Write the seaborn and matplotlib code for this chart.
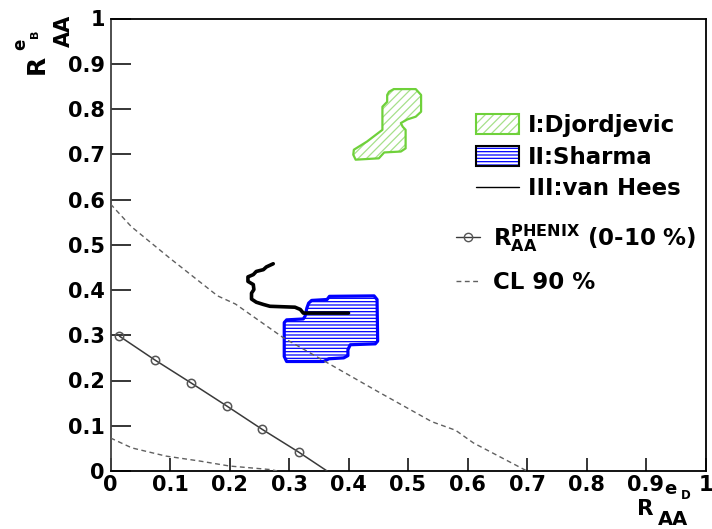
import numpy as np
import pandas as pd
import matplotlib
matplotlib.use("Agg")
import matplotlib.pyplot as plt
import seaborn as sns
from matplotlib.patches import Polygon, Patch
from matplotlib.lines import Line2D
from matplotlib.ticker import FixedLocator, FixedFormatter

# ---- data ----------------------------------------------------------------
tick_values = [0.0, 0.1, 0.2, 0.3, 0.4, 0.5, 0.6, 0.7, 0.8, 0.9, 1.0]
tick_labels = ["0", "0.1", "0.2", "0.3", "0.4", "0.5", "0.6", "0.7", "0.8", "0.9", "1"]

# I: Djordjevic band (outline of the allowed region)
djordjevic_x = [0.468, 0.476, 0.513, 0.522, 0.522, 0.513, 0.499, 0.488, 0.491, 0.496,
                0.496, 0.488, 0.460, 0.451, 0.412, 0.408, 0.409, 0.431, 0.457, 0.457,
                0.465, 0.465]
djordjevic_y = [0.838, 0.844, 0.844, 0.831, 0.794, 0.783, 0.777, 0.769, 0.761, 0.754,
                0.713, 0.706, 0.704, 0.691, 0.688, 0.699, 0.710, 0.728, 0.754, 0.805,
                0.816, 0.831]

# II: Sharma band
sharma_x = [0.333, 0.338, 0.364, 0.368, 0.443, 0.448, 0.449, 0.445, 0.403, 0.399,
            0.399, 0.392, 0.367, 0.358, 0.296, 0.292, 0.292, 0.296, 0.324, 0.327, 0.330]
sharma_y = [0.371, 0.377, 0.379, 0.386, 0.387, 0.379, 0.287, 0.281, 0.279, 0.268,
            0.255, 0.250, 0.248, 0.242, 0.242, 0.253, 0.328, 0.334, 0.336, 0.342, 0.360]

# III: van Hees curve
vanhees_x = [0.2735, 0.262, 0.257, 0.245, 0.240, 0.231, 0.231, 0.240, 0.241, 0.237,
             0.237, 0.245, 0.257, 0.268, 0.310, 0.319, 0.324, 0.400]
vanhees_y = [0.458, 0.451, 0.445, 0.441, 0.434, 0.429, 0.419, 0.412, 0.401, 0.393,
             0.380, 0.373, 0.368, 0.364, 0.362, 0.357, 0.349, 0.349]

# PHENIX R_AA (0-10 %) constraint
phenix_x = [0.015, 0.075, 0.135, 0.195, 0.255, 0.316]
phenix_y = [0.298, 0.245, 0.195, 0.144, 0.092, 0.042]
phenix_line_x = phenix_x + [0.364]
phenix_line_y = phenix_y + [0.0]

# 90 % confidence-level contours
cl_upper_x = [0.0, 0.035, 0.10, 0.18, 0.21, 0.29, 0.37, 0.45, 0.54, 0.58, 0.61, 0.70]
cl_upper_y = [0.59, 0.54, 0.47, 0.387, 0.369, 0.295, 0.235, 0.175, 0.109, 0.090, 0.062, 0.0]
cl_lower_x = [0.0, 0.036, 0.093, 0.15, 0.20, 0.27, 0.28]
cl_lower_y = [0.073, 0.051, 0.033, 0.022, 0.011, 0.003, 0.0]

legend_labels = ["I:Djordjevic", "II:Sharma", "III:van Hees"]
legend2_labels = [r"$\mathbf{R}_{\mathbf{AA}}^{\mathbf{PHENIX}}$ (0-10 %)", "CL 90 %"]

# ---- style ---------------------------------------------------------------
sns.set_theme(style="white")
plt.rcParams["font.family"] = ["DejaVu Sans"]
plt.rcParams["font.weight"] = "bold"
plt.rcParams["text.color"] = "black"
plt.rcParams["mathtext.default"] = "bf"
plt.rcParams["hatch.linewidth"] = 0.9

W, H = 712, 529
fig = plt.figure(figsize=(W / 100, H / 100), dpi=100)
fig.patch.set_facecolor("white")
ax = fig.add_axes([110.5 / W, (H - 471) / H, (705.5 - 110.5) / W, (471 - 18.5) / H])
ax.set_facecolor("white")

GREEN_EDGE = "#6fd13a"
GREEN_HATCH = "#a6e08a"
BLUE = "#0000ff"
DASH = (0, (3.5, 2.5))

# bands
dj_xy = np.column_stack([djordjevic_x, djordjevic_y])
ax.add_patch(Polygon(dj_xy, closed=True, facecolor="white", edgecolor=GREEN_HATCH,
                     hatch="////", lw=0, zorder=2))
ax.add_patch(Polygon(dj_xy, closed=True, fill=False, edgecolor=GREEN_EDGE, lw=1.6,
                     joinstyle="round", zorder=3))

sh_xy = np.column_stack([sharma_x, sharma_y])
ax.add_patch(Polygon(sh_xy, closed=True, facecolor="white", edgecolor=BLUE,
                     hatch="-----", lw=0, zorder=2))
ax.add_patch(Polygon(sh_xy, closed=True, fill=False, edgecolor=BLUE, lw=2.3,
                     joinstyle="round", zorder=3))

# curves
sns.lineplot(x=vanhees_x, y=vanhees_y, sort=False, estimator=None, ax=ax,
             color="black", lw=2.6, zorder=4)
sns.lineplot(x=cl_upper_x, y=cl_upper_y, sort=False, estimator=None, ax=ax,
             color="#606060", lw=1.0, linestyle=DASH, zorder=3)
sns.lineplot(x=cl_lower_x, y=cl_lower_y, sort=False, estimator=None, ax=ax,
             color="#606060", lw=1.0, linestyle=DASH, zorder=3)
sns.lineplot(x=phenix_line_x, y=phenix_line_y, sort=False, estimator=None, ax=ax,
             color="#3a3a3a", lw=1.1, zorder=4)
ax.plot(phenix_x, phenix_y, linestyle="none", marker="o", ms=6, mfc="none",
        mec="#555555", mew=1.1, zorder=5)

# axes
ax.set_xlim(0, 1)
ax.set_ylim(0, 1)
ax.xaxis.set_major_locator(FixedLocator(tick_values))
ax.xaxis.set_major_formatter(FixedFormatter(tick_labels))
ax.yaxis.set_major_locator(FixedLocator(tick_values))
ax.yaxis.set_major_formatter(FixedFormatter(tick_labels))
ax.tick_params(axis="x", direction="in", length=9.4, width=1.1, labelsize=15,
               pad=3, colors="black", bottom=True, top=False)
ax.tick_params(axis="y", direction="in", length=14.4, width=1.1, labelsize=15,
               pad=4, colors="black", left=True, right=False)
for s in ax.spines.values():
    s.set_color("black")
    s.set_linewidth(1.3)
ax.spines["left"].set_color("#404040")
for lab in ax.get_xticklabels() + ax.get_yticklabels():
    lab.set_fontweight("bold")


def ftxt(px, py, s, size, rot=0):
    fig.text(px / W, 1 - py / H, s, fontsize=size, fontweight="bold",
             ha="left", va="baseline", rotation=rot, rotation_mode="anchor")


# x axis title R_AA^{e_D}
ftxt(637, 515, "R", 15.5)
ftxt(658, 525, "AA", 14)
ftxt(664, 494, "e", 13)
ftxt(681, 499, "D", 8.5)
# y axis title R_AA^{e_B}
ftxt(44, 74, "R", 18, rot=90)
ftxt(70, 47, "AA", 15, rot=90)
ftxt(25, 50, "e", 12, rot=90)
ftxt(38, 38, "B", 8, rot=90)

# legends
FS = 16.5
h_dj = (Patch(facecolor="white", edgecolor=GREEN_HATCH, hatch="////", lw=0),
        Patch(fill=False, edgecolor=GREEN_EDGE, lw=1.5))
h_sh = (Patch(facecolor="white", edgecolor=BLUE, hatch="-----", lw=0),
        Patch(fill=False, edgecolor="black", lw=1.5))
h_vh = Line2D([], [], color="black", lw=1.0)
leg1 = fig.legend([h_dj, h_sh, h_vh], legend_labels, loc="upper left",
                  bbox_to_anchor=(476 / W, 1 - 114 / H), frameon=False,
                  fontsize=FS, handlelength=1.88, handleheight=0.96,
                  handletextpad=0.37, labelspacing=0.38, borderpad=0,
                  borderaxespad=0)
h_ph = Line2D([], [], color="#3a3a3a", lw=1.0, marker="o", ms=6, mfc="none",
              mec="#555555")
h_cl = Line2D([], [], color="#606060", lw=1.0, linestyle=DASH)
leg2 = fig.legend([h_ph, h_cl], legend2_labels, loc="upper left",
                  bbox_to_anchor=(456 / W, 1 - 222 / H), frameon=False,
                  fontsize=FS, handlelength=1.05, handletextpad=0.57,
                  labelspacing=0.76, borderpad=0, borderaxespad=0)
for t in leg1.get_texts() + leg2.get_texts():
    t.set_fontweight("bold")
    t.set_color("black")

fig.savefig("out.png", dpi=100, facecolor="white")
